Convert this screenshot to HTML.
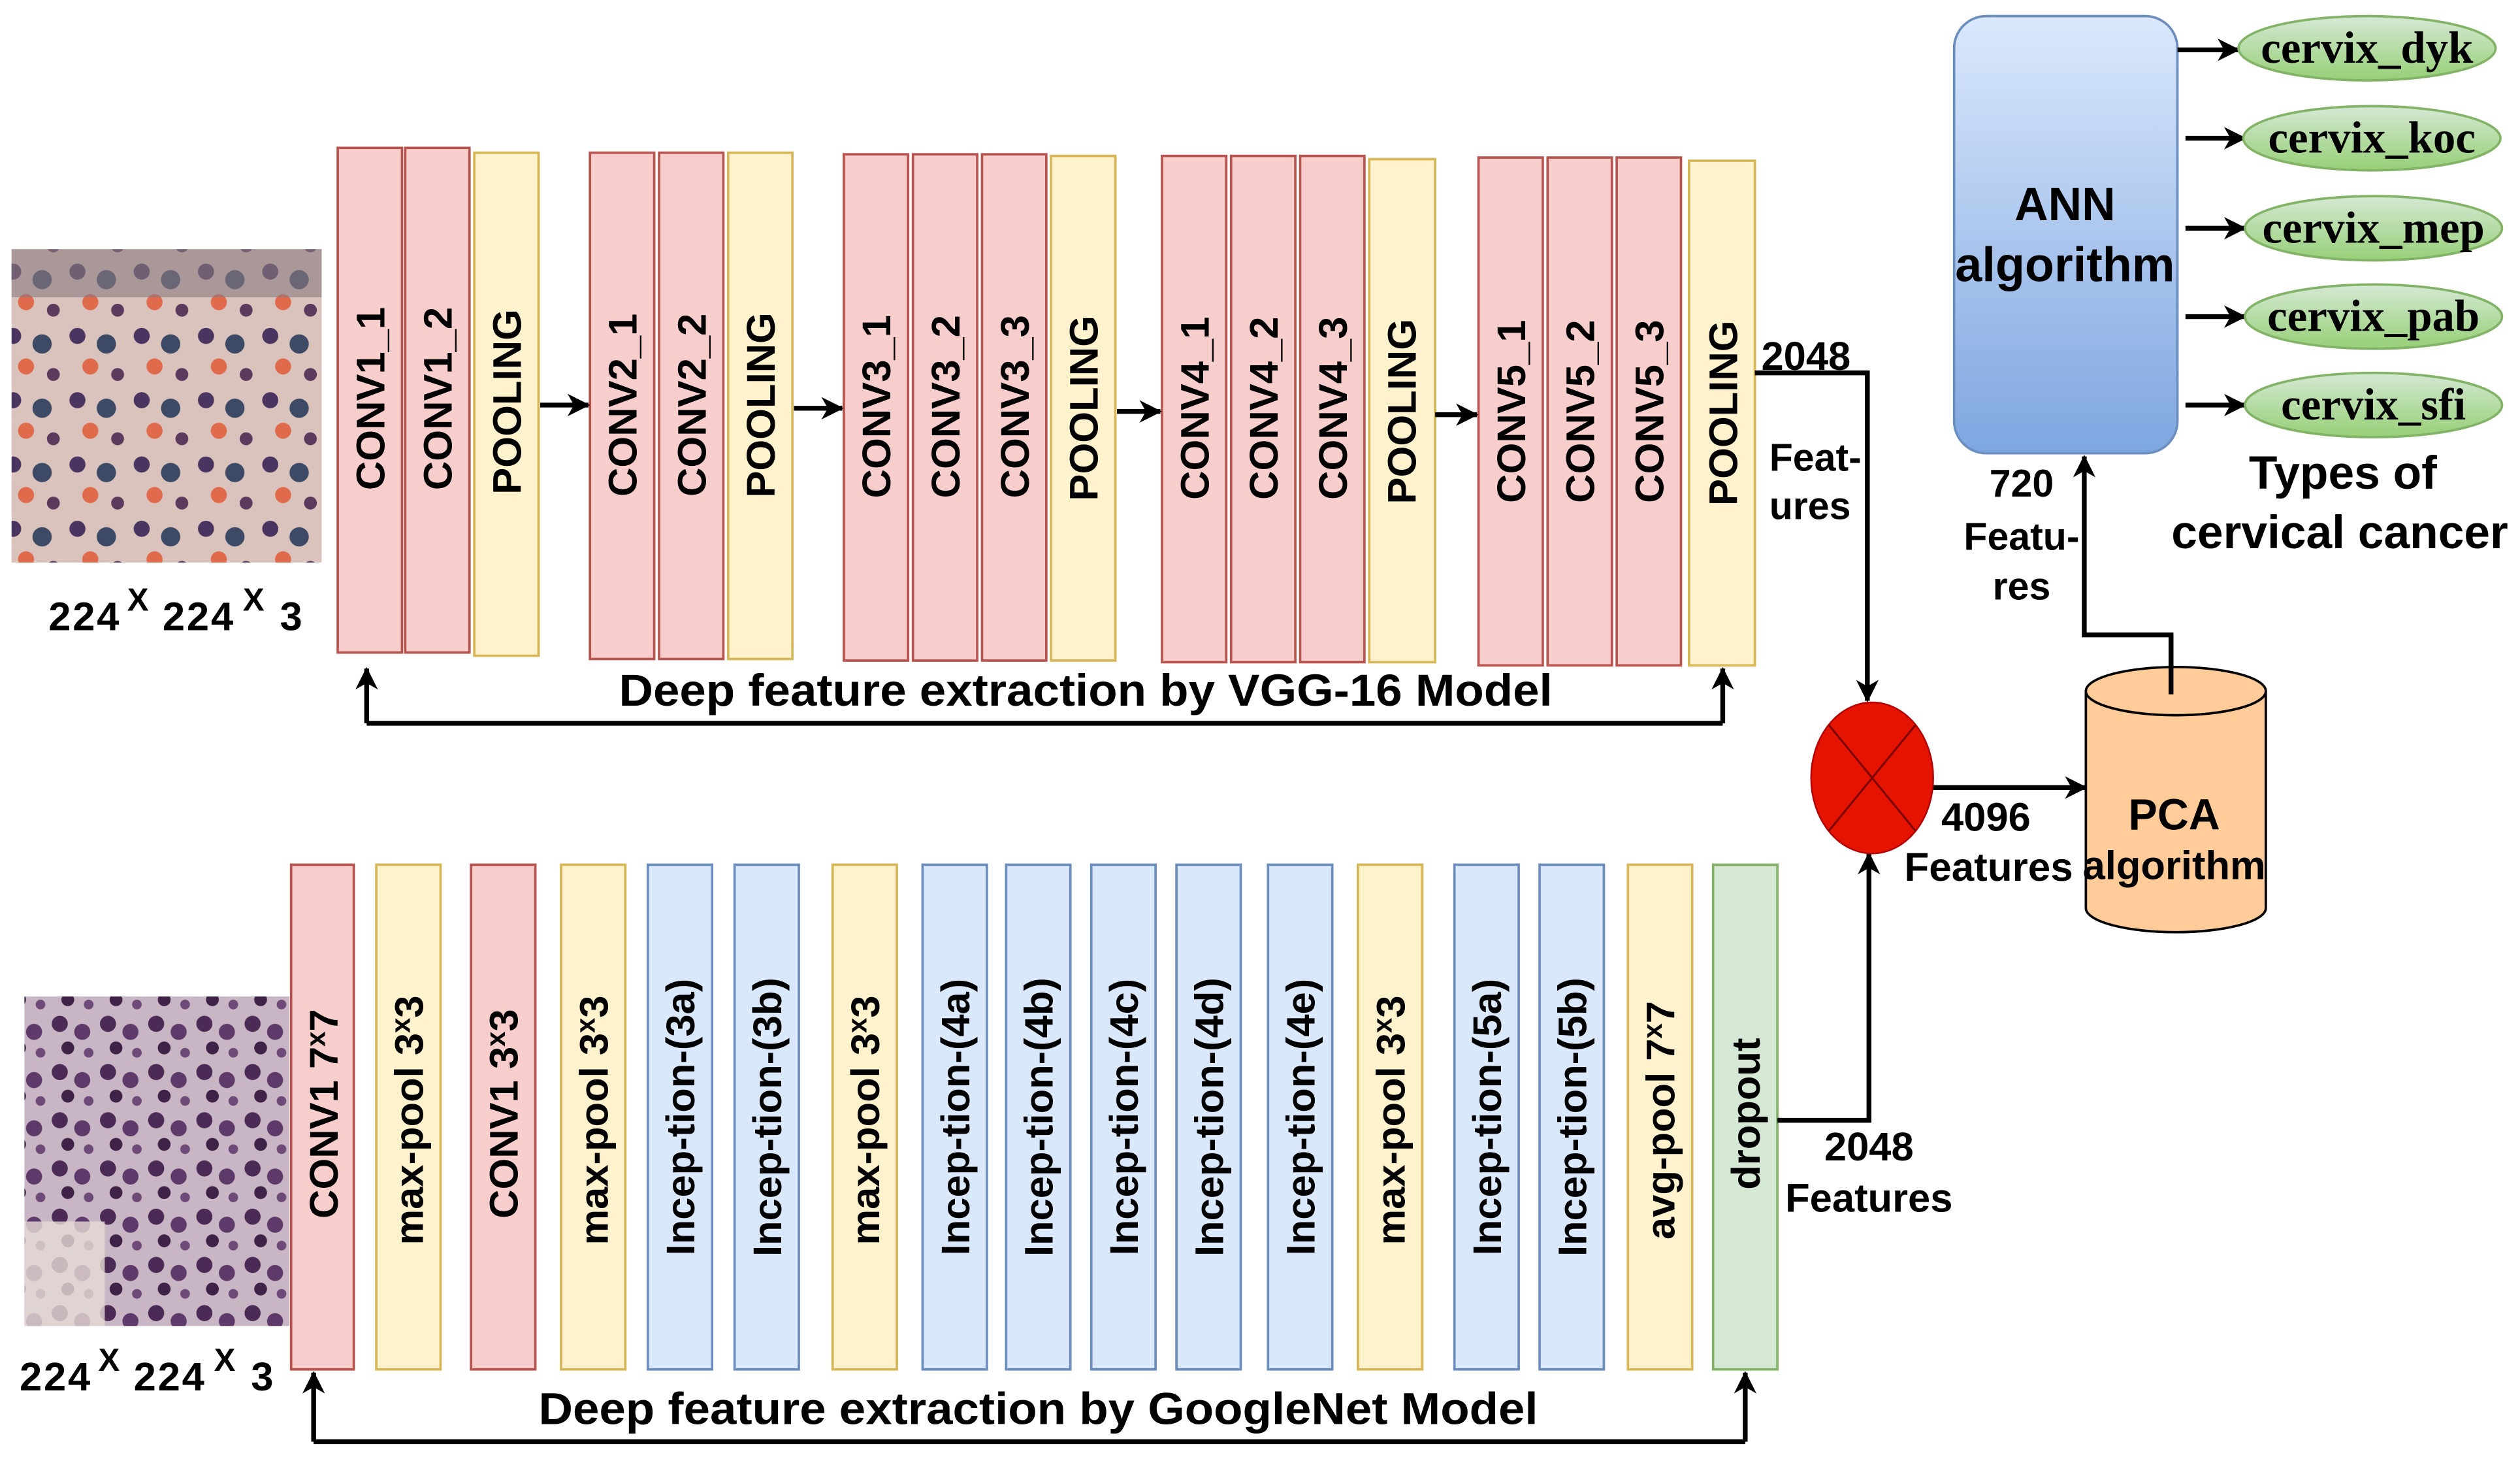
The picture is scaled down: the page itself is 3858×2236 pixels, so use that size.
<!DOCTYPE html>
<html><head><meta charset="utf-8"><style>
html,body{margin:0;padding:0;background:#fff;}
svg{display:block;}
text{font-family:"Liberation Sans",Arial,sans-serif;font-weight:bold;fill:#000;}
.s{font-family:"Liberation Serif",serif;}
</style></head><body>
<svg width="3858" height="2236" viewBox="0 0 1568 909" xmlns="http://www.w3.org/2000/svg">
<defs>
<marker id="ab" markerWidth="14" markerHeight="14" refX="13" refY="7" orient="auto" markerUnits="userSpaceOnUse">
<path d="M0,0 L14,7 L0,14 L4,7 z" fill="#000"/></marker>
<linearGradient id="ann" x1="0" y1="0" x2="0" y2="1"><stop offset="0" stop-color="#dae8fc"/><stop offset="1" stop-color="#7ea6e0"/></linearGradient>
<linearGradient id="grn" x1="0" y1="0" x2="0" y2="1"><stop offset="0" stop-color="#d5e8d4"/><stop offset="1" stop-color="#97d077"/></linearGradient>
<pattern id="cells" width="40" height="40" patternUnits="userSpaceOnUse">
<rect width="40" height="40" fill="#d9c3bc"/>
<circle cx="8" cy="9" r="5" fill="#4a3560"/><circle cx="26" cy="14" r="6" fill="#3d4a66"/>
<circle cx="16" cy="28" r="5" fill="#e06a4c"/><circle cx="33" cy="33" r="4" fill="#5b3a5e"/>
</pattern>
<pattern id="cells2" width="30" height="30" patternUnits="userSpaceOnUse">
<rect width="30" height="30" fill="#c9b6c4"/>
<circle cx="7" cy="7" r="5" fill="#4b2a55"/><circle cx="21" cy="12" r="5" fill="#5e3a6a"/>
<circle cx="12" cy="22" r="4" fill="#3f2248"/><circle cx="25" cy="25" r="3" fill="#6d4a78"/>
</pattern>
</defs>

<!-- images -->
<rect x="7" y="155" width="193" height="195" fill="url(#cells)"/>
<rect x="7" y="155" width="193" height="30" fill="#8a7a80" opacity="0.6"/>
<rect x="15" y="620" width="165" height="205" fill="url(#cells2)"/>
<rect x="15" y="760" width="50" height="65" fill="#e6dcd6" opacity="0.8"/>
<text x="30" y="392" font-size="25" textLength="44">224</text><text x="79" y="380" font-size="20">X</text>
<text x="101" y="392" font-size="25" textLength="44">224</text><text x="151" y="380" font-size="20">X</text><text x="174" y="392" font-size="25">3</text>
<text x="12" y="865" font-size="25" textLength="44">224</text><text x="61" y="853" font-size="20">X</text>
<text x="83" y="865" font-size="25" textLength="44">224</text><text x="133" y="853" font-size="20">X</text><text x="156" y="865" font-size="25">3</text>

<!-- VGG boxes -->
<g stroke-width="1.5">
<g fill="#f8cecc" stroke="#b85450">
<rect x="210" y="92" width="40" height="314"/><rect x="252" y="92" width="40" height="314"/>
<rect x="367" y="95" width="40" height="315"/><rect x="410" y="95" width="40" height="315"/>
<rect x="525" y="96" width="40" height="315"/><rect x="568" y="96" width="40" height="315"/><rect x="611" y="96" width="40" height="315"/>
<rect x="723" y="97" width="40" height="315"/><rect x="766" y="97" width="40" height="315"/><rect x="809" y="97" width="40" height="315"/>
<rect x="920" y="98" width="40" height="316"/><rect x="963" y="98" width="40" height="316"/><rect x="1006" y="98" width="40" height="316"/>
</g>
<g fill="#fff2cc" stroke="#d6b656">
<rect x="295" y="95" width="40" height="313"/><rect x="453" y="95" width="40" height="315"/>
<rect x="654" y="97" width="40" height="314"/><rect x="852" y="99" width="41" height="313"/>
<rect x="1051" y="100" width="41" height="314"/>
</g>
</g>
<g font-size="25" text-anchor="middle">
<text transform="translate(239,248) rotate(-90)">CONV1_1</text>
<text transform="translate(281,248) rotate(-90)">CONV1_2</text>
<text transform="translate(324,250) rotate(-90)">POOLING</text>
<text transform="translate(396,252) rotate(-90)">CONV2_1</text>
<text transform="translate(439,252) rotate(-90)">CONV2_2</text>
<text transform="translate(482,252) rotate(-90)">POOLING</text>
<text transform="translate(554,253) rotate(-90)">CONV3_1</text>
<text transform="translate(597,253) rotate(-90)">CONV3_2</text>
<text transform="translate(640,253) rotate(-90)">CONV3_3</text>
<text transform="translate(683,254) rotate(-90)">POOLING</text>
<text transform="translate(752,254) rotate(-90)">CONV4_1</text>
<text transform="translate(795,254) rotate(-90)">CONV4_2</text>
<text transform="translate(838,254) rotate(-90)">CONV4_3</text>
<text transform="translate(881,256) rotate(-90)">POOLING</text>
<text transform="translate(949,256) rotate(-90)">CONV5_1</text>
<text transform="translate(992,256) rotate(-90)">CONV5_2</text>
<text transform="translate(1035,256) rotate(-90)">CONV5_3</text>
<text transform="translate(1081,257) rotate(-90)">POOLING</text>
</g>
<g stroke="#000" stroke-width="3" fill="none">
<line x1="336" y1="252" x2="366" y2="252" marker-end="url(#ab)"/>
<line x1="494" y1="254" x2="524" y2="254" marker-end="url(#ab)"/>
<line x1="695" y1="256" x2="722" y2="256" marker-end="url(#ab)"/>
<line x1="893" y1="258" x2="919" y2="258" marker-end="url(#ab)"/>
<path d="M228,450 L1072,450" />
<line x1="228" y1="450" x2="228" y2="416" marker-end="url(#ab)"/>
<line x1="1072" y1="450" x2="1072" y2="416" marker-end="url(#ab)"/>
</g>
<text x="385" y="439" font-size="28" textLength="581" lengthAdjust="spacingAndGlyphs">Deep feature extraction by VGG-16 Model</text>

<!-- GoogleNet boxes -->
<g stroke-width="1.5">
<g fill="#f8cecc" stroke="#b85450"><rect x="181" y="538" width="39" height="314"/><rect x="293" y="538" width="40" height="314"/></g>
<g fill="#fff2cc" stroke="#d6b656">
<rect x="234" y="538" width="40" height="314"/><rect x="349" y="538" width="40" height="314"/>
<rect x="518" y="538" width="40" height="314"/><rect x="845" y="538" width="40" height="314"/>
<rect x="1013" y="538" width="40" height="314"/></g>
<g fill="#dae8fc" stroke="#6c8ebf">
<rect x="403" y="538" width="40" height="314"/><rect x="457" y="538" width="40" height="314"/>
<rect x="574" y="538" width="40" height="314"/><rect x="626" y="538" width="40" height="314"/>
<rect x="679" y="538" width="40" height="314"/><rect x="732" y="538" width="40" height="314"/>
<rect x="789" y="538" width="40" height="314"/><rect x="905" y="538" width="40" height="314"/>
<rect x="958" y="538" width="40" height="314"/></g>
<rect x="1066" y="538" width="40" height="314" fill="#d5e8d4" stroke="#82b366"/>
</g>
<g font-size="25" text-anchor="middle">
<text transform="translate(210,693) rotate(-90)">CONV1 7<tspan font-size="17" dy="-8">x</tspan><tspan dy="8">7</tspan></text>
<text transform="translate(263,697) rotate(-90)">max-pool 3<tspan font-size="17" dy="-8">x</tspan><tspan dy="8">3</tspan></text>
<text transform="translate(322,693) rotate(-90)">CONV1 3<tspan font-size="17" dy="-8">x</tspan><tspan dy="8">3</tspan></text>
<text transform="translate(378,697) rotate(-90)">max-pool 3<tspan font-size="17" dy="-8">x</tspan><tspan dy="8">3</tspan></text>
<text transform="translate(432,695) rotate(-90)">Incep-tion-(3a)</text>
<text transform="translate(486,695) rotate(-90)">Incep-tion-(3b)</text>
<text transform="translate(547,697) rotate(-90)">max-pool 3<tspan font-size="17" dy="-8">x</tspan><tspan dy="8">3</tspan></text>
<text transform="translate(603,695) rotate(-90)">Incep-tion-(4a)</text>
<text transform="translate(655,695) rotate(-90)">Incep-tion-(4b)</text>
<text transform="translate(708,695) rotate(-90)">Incep-tion-(4c)</text>
<text transform="translate(761,695) rotate(-90)">Incep-tion-(4d)</text>
<text transform="translate(818,695) rotate(-90)">Incep-tion-(4e)</text>
<text transform="translate(874,697) rotate(-90)">max-pool 3<tspan font-size="17" dy="-8">x</tspan><tspan dy="8">3</tspan></text>
<text transform="translate(934,695) rotate(-90)">Incep-tion-(5a)</text>
<text transform="translate(987,695) rotate(-90)">Incep-tion-(5b)</text>
<text transform="translate(1042,697) rotate(-90)">avg-pool 7<tspan font-size="17" dy="-8">x</tspan><tspan dy="8">7</tspan></text>
<text transform="translate(1095,693) rotate(-90)">dropout</text>
</g>
<g stroke="#000" stroke-width="3" fill="none">
<path d="M195,897 L1086,897"/>
<line x1="195" y1="897" x2="195" y2="854" marker-end="url(#ab)"/>
<line x1="1086" y1="897" x2="1086" y2="854" marker-end="url(#ab)"/>
<path d="M1106,697 L1163,697 L1163,531" marker-end="url(#ab)"/>
<path d="M1092,232 L1162,232 L1162,436" marker-end="url(#ab)"/>
<line x1="1203" y1="490" x2="1298" y2="490" marker-end="url(#ab)"/>
<path d="M1351,432 L1351,395 L1297,395 L1297,284" marker-end="url(#ab)"/>
</g>
<text x="335" y="886" font-size="28" textLength="622" lengthAdjust="spacingAndGlyphs">Deep feature extraction by GoogleNet Model</text>
<text x="1163" y="722" font-size="25" text-anchor="middle">2048</text>
<text x="1163" y="754" font-size="25" text-anchor="middle">Features</text>
<text x="1096" y="230" font-size="25">2048</text>
<text x="1101" y="293" font-size="24">Feat-</text>
<text x="1101" y="323" font-size="24">ures</text>

<!-- circle -->
<ellipse cx="1165" cy="484" rx="38" ry="47" fill="#e51400" stroke="#b20000" stroke-width="1"/>
<g stroke="#7a0000" stroke-width="1.2"><line x1="1138" y1="451" x2="1192" y2="517"/><line x1="1192" y1="451" x2="1138" y2="517"/></g>
<text x="1208" y="517" font-size="25">4096</text>
<text x="1185" y="548" font-size="25" textLength="105" lengthAdjust="spacingAndGlyphs">Features</text>

<!-- PCA -->
<path d="M1298,430 L1298,565 A56,15 0 0 0 1410,565 L1410,430" fill="#ffcc99" stroke="#000" stroke-width="1.5"/>
<ellipse cx="1354" cy="430" rx="56" ry="15" fill="#ffcc99" stroke="#000" stroke-width="1.5"/>
<line x1="1351" y1="395" x2="1351" y2="432" stroke="#000" stroke-width="3"/>
<text x="1353" y="516" font-size="27" text-anchor="middle">PCA</text>
<text x="1353" y="547" font-size="25" text-anchor="middle">algorithm</text>

<!-- ANN -->
<rect x="1216" y="10" width="139" height="272" rx="20" fill="url(#ann)" stroke="#6c8ebf" stroke-width="1.5"/>
<text x="1285" y="137" font-size="29" text-anchor="middle">ANN</text>
<text x="1285" y="175" font-size="30" text-anchor="middle">algorithm</text>
<text x="1258" y="309" font-size="24" text-anchor="middle">720</text>
<text x="1258" y="342" font-size="24" text-anchor="middle">Featu-</text>
<text x="1258" y="373" font-size="24" text-anchor="middle">res</text>

<!-- outputs -->
<g stroke="#000" stroke-width="3">
<line x1="1355" y1="31" x2="1393" y2="31" marker-end="url(#ab)"/>
<line x1="1360" y1="86" x2="1397" y2="86" marker-end="url(#ab)"/>
<line x1="1360" y1="142" x2="1397" y2="142" marker-end="url(#ab)"/>
<line x1="1360" y1="197" x2="1397" y2="197" marker-end="url(#ab)"/>
<line x1="1360" y1="252" x2="1397" y2="252" marker-end="url(#ab)"/>
</g>
<g fill="url(#grn)" stroke="#82b366" stroke-width="1.5">
<ellipse cx="1473" cy="30" rx="80" ry="20"/>
<ellipse cx="1476" cy="86" rx="80" ry="20"/>
<ellipse cx="1477" cy="142" rx="80" ry="20"/>
<ellipse cx="1477" cy="197" rx="80" ry="20"/>
<ellipse cx="1477" cy="252" rx="80" ry="20"/>
</g>
<g font-size="28" text-anchor="middle">
<text class="s" x="1473" y="39">cervix_dyk</text>
<text class="s" x="1476" y="95">cervix_koc</text>
<text class="s" x="1477" y="151">cervix_mep</text>
<text class="s" x="1477" y="206">cervix_pab</text>
<text class="s" x="1477" y="261">cervix_sfi</text>
</g>
<text x="1458" y="304" font-size="29" text-anchor="middle">Types of</text>
<text x="1456" y="341" font-size="29" text-anchor="middle">cervical cancer</text>
</svg>
</body></html>
